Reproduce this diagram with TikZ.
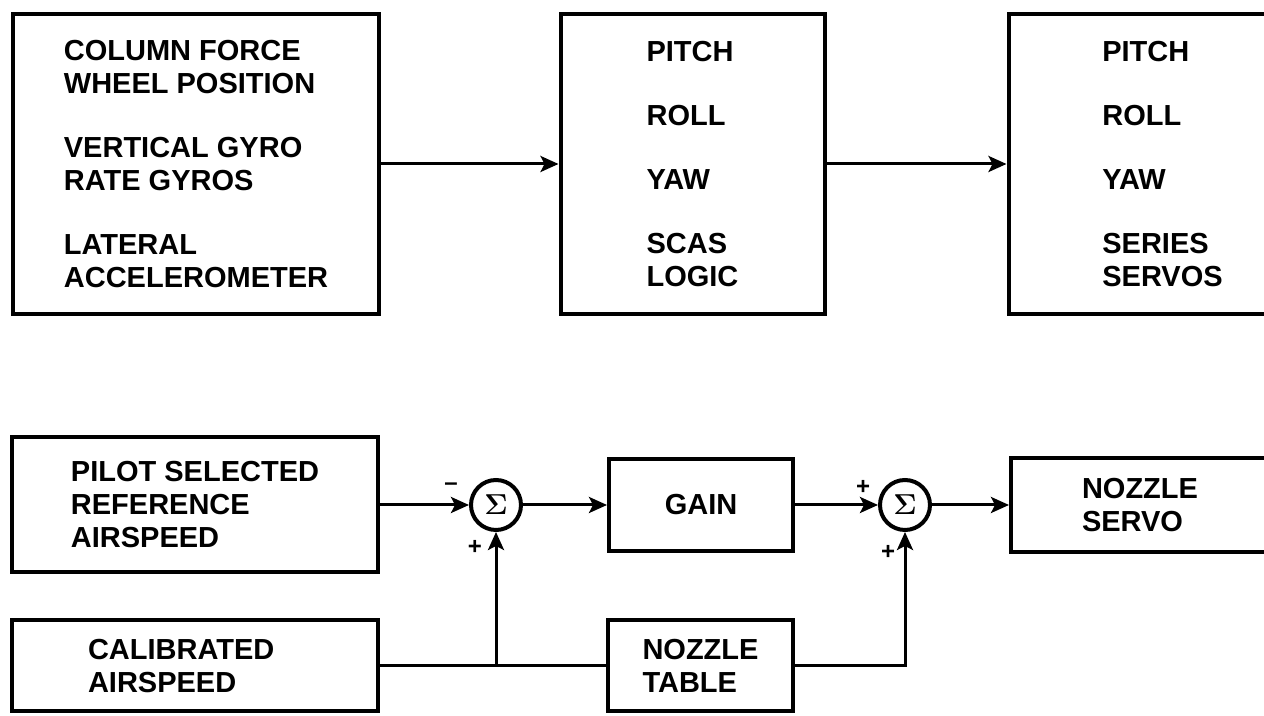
\documentclass[tikz,border=0pt]{standalone}
\usepackage[no-math]{fontspec}
\setmainfont{Liberation Sans}
\usepackage{tikz}
\usetikzlibrary{positioning,arrows.meta}
\tikzset{
  blk/.style={rectangle, draw=black, line width=2pt, align=left, inner sep=0pt,
              font=\bfseries\fontsize{14.5}{16.5}\selectfont},
  sumpt/.style={circle, draw=black, line width=2pt, minimum size=25pt, inner sep=0pt,
                font=\boldmath\fontsize{15}{15}\selectfont},
  conn/.style={line width=1.5pt},
  ar/.style={-{Stealth[length=9pt,width=8pt,inset=2pt]}, line width=1.5pt},
  sgn/.style={font=\bfseries\fontsize{12}{12}\selectfont, inner sep=0pt},
}

\begin{document}
\begin{tikzpicture}[x=0.5pt,y=0.5pt]
  \useasboundingbox (0,0) rectangle (1264,716);
  \clip (0,0) rectangle (1264,716);

  % upper chain: sensors -> scas -> servos
  \node[blk, minimum width=183pt, minimum height=150pt] (sensors) at (196,552)
    {COLUMN FORCE\\WHEEL POSITION\\[15.5pt]VERTICAL GYRO\\RATE GYROS\\[15.5pt]LATERAL\\ACCELEROMETER};
  \node[blk, minimum width=132pt, minimum height=150pt] (scas) at (692.5,552)
    {PITCH\\[15.5pt]ROLL\\[15.5pt]YAW\\[15.5pt]SCAS\\LOGIC};
  \node[blk, minimum width=154pt, minimum height=150pt] (servos) at (1162.5,552)
    {PITCH\\[15.5pt]ROLL\\[15.5pt]YAW\\[15.5pt]SERIES\\SERVOS};

  \draw[ar] (sensors) -- (scas);
  \draw[ar] (scas) -- (servos);

  % airspeed hold loop
  \node[blk, minimum width=183pt, minimum height=67.5pt] (pilot) at (195,211)
    {PILOT SELECTED\\REFERENCE\\AIRSPEED};
  \node[sumpt] (sum1) at (496,211) {$\mathbf{\Sigma}$};
  \node[blk, align=center, minimum width=92pt, minimum height=46pt] (gain) at (701,211) {GAIN};
  \node[sumpt] (sum2) at (905,211) {$\mathbf{\Sigma}$};
  \node[blk, minimum width=129pt, minimum height=47pt] (nozservo) at (1140,211)
    {NOZZLE\\SERVO};

  \node[blk, text width=107pt, minimum width=183pt, minimum height=45.5pt] (calib) at (195,50)
    {CALIBRATED\\AIRSPEED};
  \node[blk, minimum width=92.5pt, minimum height=45.5pt] (noztable) at (700.5,50)
    {NOZZLE\\TABLE};

  \draw[ar] (pilot) -- (sum1);
  \draw[ar] (sum1) -- (gain);
  \draw[ar] (gain) -- (sum2);
  \draw[ar] (sum2) -- (nozservo);
  \draw[conn] (calib) -- (noztable);
  \draw[ar] (calib.east -| sum1.south) -- (sum1.south);
  \draw[ar] (noztable.east) -| (sum2.south);

  % signs
  \node[sgn] (neg1) at (451,229) {--};
  \node[sgn] (pos1) at (475,169) {+};
  \node[sgn] (pos2) at (863,229) {+};
  \node[sgn] (pos3) at (888,164) {+};
\end{tikzpicture}
\end{document}
